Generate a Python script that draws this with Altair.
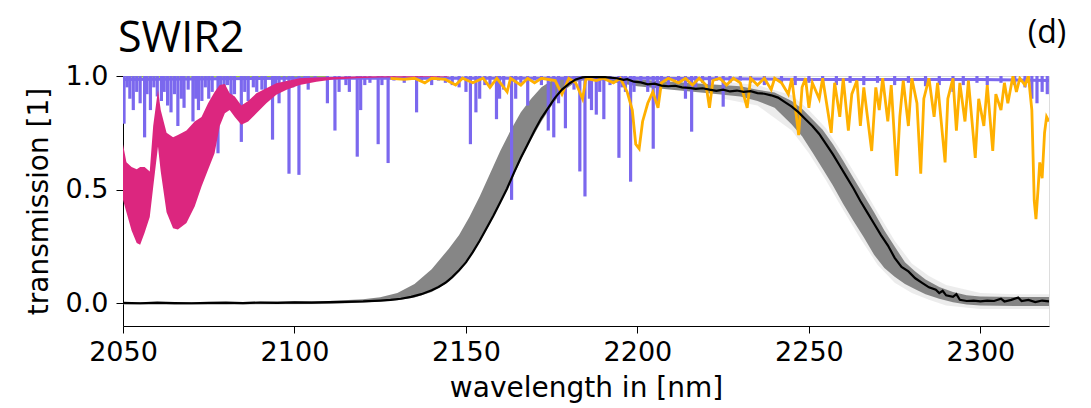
import altair as alt
import pandas as pd

# ---------------- data ----------------
# purple (H2O-like) absorption lines: wavelength, minimum transmission
purple_w = [2050.3, 2051.2, 2052, 2053, 2054, 2055, 2056.3, 2057, 2058, 2059, 2060, 2061.2, 2062, 2063, 2064,
            2065, 2066, 2067, 2067.8, 2069, 2070.4, 2071.2, 2072, 2073, 2074, 2075, 2076, 2077.7, 2078.5, 2079.5,
            2080.5, 2081.5, 2082.5, 2084.5, 2085.5, 2086.5, 2088, 2089, 2090.5, 2091.5, 2093.6, 2094.5, 2095.5,
            2097, 2098.4, 2099.5, 2101.3, 2103, 2104, 2106, 2109.6, 2111.8, 2113, 2115, 2116, 2118.3, 2119.3,
            2120.5, 2122, 2124.4, 2125.5, 2127.3, 2129, 2132, 2135.6, 2137, 2140, 2142, 2144, 2146, 2148, 2150,
            2151.3, 2152.9, 2154, 2155.5, 2157, 2158.9, 2159.8, 2161, 2163.3, 2164.5, 2166, 2168, 2170, 2172,
            2174, 2175.6, 2177, 2179, 2180, 2181.5, 2183.2, 2184.7, 2186, 2186.6, 2188, 2189, 2190.2, 2192,
            2194.6, 2195.5, 2196.5, 2198, 2199, 2201, 2203, 2204.6, 2205.8, 2207, 2209, 2212, 2214, 2215.8,
            2217, 2219, 2221, 2223, 2225, 2227, 2230, 2233, 2237, 2242, 2246, 2250, 2254, 2258, 2262, 2266,
            2270, 2275, 2279, 2284, 2288, 2292, 2295, 2299, 2302, 2306, 2310, 2313, 2315, 2316.5, 2318, 2319.5]
purple_v = [0.79, 0.95, 0.90, 0.85, 0.93, 0.88, 0.73, 0.92, 0.85, 0.95, 0.91, 0.89, 0.93, 0.87, 0.84,
            0.92, 0.78, 0.90, 0.86, 0.94, 0.80, 0.90, 0.85, 0.89, 0.95, 0.90, 0.93, 0.66, 0.94, 0.90,
            0.96, 0.85, 0.92, 0.71, 0.93, 0.89, 0.95, 0.93, 0.94, 0.90, 0.72, 0.95, 0.88,
            0.96, 0.57, 0.95, 0.565, 0.97, 0.94, 0.98, 0.88, 0.76, 0.93, 0.96, 0.93, 0.645, 0.85,
            0.96, 0.97, 0.70, 0.96, 0.617, 0.98, 0.97, 0.84, 0.98, 0.96, 0.98, 0.97, 0.96, 0.95, 0.93,
            0.70, 0.84, 0.90, 0.96, 0.95, 0.81, 0.90, 0.94, 0.455, 0.90, 0.97, 0.87, 0.98, 0.96,
            0.76, 0.73, 0.88, 0.77, 0.96, 0.94, 0.58, 0.47, 0.90, 0.85, 0.83, 0.93, 0.81, 0.96,
            0.64, 0.95, 0.93, 0.535, 0.93, 0.97, 0.93, 0.68, 0.88, 0.97, 0.96, 0.97, 0.90, 0.755,
            0.95, 0.97, 0.96, 0.98, 0.865, 0.97, 0.98, 0.97, 0.96, 0.97, 0.96, 0.97, 0.965, 0.96, 0.97, 0.96,
            0.97, 0.96, 0.97, 0.955, 0.96, 0.93, 0.96, 0.97, 0.96, 0.97, 0.96, 0.95, 0.90, 0.88, 0.93, 0.92]
purple_base_w = [2050, 2100, 2150, 2200, 2250, 2300, 2320]
purple_base_v = [0.985, 0.99, 0.99, 0.99, 0.985, 0.985, 0.98]

# magenta (CO2-like) band: lower / upper envelope of the dense oscillation
mag_w = [2050, 2051, 2052.5, 2054, 2055, 2056.3, 2057.8, 2058.8, 2060.2, 2061, 2062.7, 2064.6, 2066, 2068.5,
         2070.9, 2072.9, 2074.8, 2076.7, 2078.2, 2079.7, 2081.1, 2082.6, 2084.5, 2086.5, 2088.9, 2091.8,
         2094.7, 2097.7, 2101.5, 2106.4, 2111.3, 2118, 2125, 2135, 2145]
mag_hi = [0.70, 0.62, 0.60, 0.59, 0.60, 0.60, 0.58, 0.78, 0.94, 0.85, 0.75, 0.73, 0.74, 0.76,
          0.80, 0.82, 0.88, 0.93, 0.96, 0.965, 0.924, 0.91, 0.87, 0.89, 0.924, 0.946,
          0.968, 0.978, 0.99, 0.993, 0.996, 0.998, 0.999, 0.999, 0.999]
mag_lo = [0.455, 0.40, 0.32, 0.265, 0.258, 0.31, 0.38, 0.51, 0.69, 0.58, 0.40, 0.33, 0.325, 0.353,
          0.426, 0.514, 0.587, 0.66, 0.78, 0.836, 0.85, 0.82, 0.785, 0.80, 0.836, 0.88,
          0.917, 0.94, 0.96, 0.975, 0.985, 0.99, 0.993, 0.995, 0.997]

# green trace at the very top
green_w = [2050, 2070, 2090, 2110]
green_v = [0.997, 0.996, 0.997, 0.998]

# orange (CH4-like) transmission line
orange_w = [2128, 2132, 2135, 2138, 2140, 2144, 2147, 2149, 2152, 2155, 2157, 2159, 2162, 2163, 2166, 2168, 2170,
            2172, 2176, 2178, 2180, 2182, 2184, 2185, 2188, 2190, 2193, 2195, 2197, 2198.5, 2199.5, 2200.5,
            2201.5, 2203, 2204.5, 2206, 2207, 2209, 2212, 2214, 2216, 2218, 2220, 2221, 2222, 2224, 2226, 2228,
            2230, 2232, 2233, 2235, 2237, 2239, 2240, 2242, 2244, 2245, 2247, 2248, 2249, 2250, 2251, 2253, 2254,
            2256.5, 2257.5, 2259, 2260, 2261.5, 2262.5, 2264, 2265, 2266, 2268.3, 2269.5, 2270.5, 2271.5, 2273,
            2274, 2275.6, 2276.5, 2277.5, 2279, 2280, 2281.5, 2282.6, 2283.5, 2285, 2286.5, 2287.5, 2289.7,
            2290.5, 2292, 2293, 2294, 2295.5, 2296.5, 2298.5, 2299.5, 2301, 2302, 2303.6, 2304.5, 2306, 2307,
            2308, 2309.5, 2310.5, 2311.5, 2313, 2314, 2315, 2315.7, 2316.2, 2316.8, 2317.3, 2318, 2318.7,
            2319.3, 2320]
orange_v = [0.99, 0.985, 0.99, 0.97, 0.99, 0.985, 0.96, 0.99, 0.97, 0.99, 0.95, 0.99, 0.93, 0.99, 0.96, 0.99, 0.97,
            0.99, 0.98, 0.92, 0.99, 0.97, 0.90, 0.99, 0.98, 0.99, 0.97, 0.99, 0.93, 0.85, 0.70, 0.68,
            0.80, 0.88, 0.93, 0.86, 0.97, 0.99, 0.97, 0.99, 0.96, 0.99, 0.96, 0.86, 0.98, 0.99, 0.96, 0.99,
            0.97, 0.86, 0.99, 0.96, 0.99, 0.94, 0.99, 0.97, 0.92, 0.99, 0.74, 0.95, 0.99, 0.86, 0.97, 0.90, 0.99,
            0.75, 0.97, 0.82, 0.99, 0.76, 0.92, 0.98, 0.78, 0.95, 0.67, 0.95, 0.85, 0.99, 0.80,
            0.96, 0.56, 0.82, 0.98, 0.78, 0.99, 0.88, 0.57, 0.90, 0.99, 0.82, 0.97, 0.62,
            0.90, 0.99, 0.76, 0.97, 0.80, 0.98, 0.64, 0.90, 0.78, 0.96, 0.67, 0.92, 0.85, 0.97,
            0.88, 1.0, 0.93, 0.99, 0.96, 1.0, 0.85, 0.45, 0.37, 0.50, 0.62, 0.55, 0.75,
            0.82, 0.80]

# gray ensemble of spectral response functions: envelope
gray_w = [2050, 2080, 2110, 2120, 2125, 2130, 2135, 2140, 2145, 2148, 2151, 2154, 2157, 2160, 2163, 2166, 2169,
          2172, 2175, 2178, 2182, 2186, 2190, 2200, 2210, 2220, 2230, 2235, 2240, 2245, 2248, 2251, 2254, 2257,
          2260, 2263, 2266, 2269, 2272, 2275, 2278, 2281, 2284, 2288, 2292, 2296, 2300, 2310, 2320]
gray_hi = [0.005, 0.005, 0.01, 0.018, 0.027, 0.045, 0.085, 0.15, 0.24, 0.30, 0.38, 0.47, 0.57, 0.67, 0.76, 0.84, 0.90,
           0.95, 0.98, 0.995, 1.0, 1.0, 0.995, 0.985, 0.975, 0.965, 0.955, 0.94, 0.927, 0.89, 0.856, 0.81, 0.764,
           0.70, 0.627, 0.55, 0.475, 0.40, 0.32, 0.25, 0.18, 0.14, 0.105, 0.072, 0.05, 0.035, 0.03, 0.028, 0.028]
gray_lo = [-0.005, -0.005, -0.003, 0.003, 0.008, 0.013, 0.025, 0.05, 0.095, 0.14, 0.2, 0.27, 0.35, 0.44, 0.53, 0.63,
           0.72, 0.80, 0.87, 0.93, 0.975, 0.985, 0.98, 0.955, 0.94, 0.925, 0.91, 0.89, 0.86, 0.787, 0.735, 0.665,
           0.592, 0.518, 0.437, 0.362, 0.29, 0.213, 0.155, 0.117, 0.085, 0.062, 0.04, 0.02, 0.005, -0.005, -0.01,
           -0.012, -0.012]

# faint halo of the ensemble on the falling edge
halo_w = [2225, 2235, 2245, 2250, 2255, 2260, 2265, 2270, 2275, 2280, 2285, 2290, 2300, 2310, 2320]
halo_hi = [0.975, 0.96, 0.915, 0.85, 0.77, 0.655, 0.53, 0.40, 0.275, 0.175, 0.12, 0.08, 0.045, 0.04, 0.04]
halo_lo = [0.90, 0.87, 0.76, 0.66, 0.54, 0.41, 0.285, 0.17, 0.09, 0.045, 0.015, -0.01, -0.025, -0.025, -0.025]

# black mean spectral response
black_w = [2050, 2055, 2060, 2065, 2070, 2075, 2080, 2085, 2090, 2095, 2100, 2105, 2110, 2115, 2120, 2125, 2128,
           2131, 2134, 2137, 2140, 2142, 2144, 2146, 2148, 2150, 2152, 2154, 2156, 2158, 2160, 2162, 2164, 2166,
           2168, 2170, 2172, 2174, 2176, 2178, 2180, 2182, 2184, 2186, 2188, 2190, 2192, 2194, 2196, 2197, 2199,
           2201, 2203, 2205, 2207, 2209, 2211, 2213, 2215, 2217, 2219, 2221, 2223, 2225, 2227, 2229, 2231, 2233,
           2235, 2237, 2239, 2241, 2243, 2245, 2247, 2249, 2251, 2253, 2255, 2257, 2259, 2261, 2263, 2265, 2267,
           2269, 2271, 2273, 2275, 2277, 2279, 2281, 2283, 2285, 2287, 2288, 2289, 2290, 2292, 2293, 2294, 2296,
           2298, 2300, 2302, 2304, 2306, 2307, 2309, 2311, 2312, 2314, 2316, 2318, 2320]
black_v = [0.002, 0.0, 0.003, 0.001, 0.0, 0.002, 0.003, 0.001, 0.003, 0.002, 0.004, 0.003, 0.005, 0.006, 0.008,
           0.012, 0.015, 0.02, 0.028, 0.04, 0.057, 0.072, 0.09, 0.115, 0.145, 0.18, 0.225, 0.275, 0.33, 0.385,
           0.445, 0.505, 0.575, 0.64, 0.70, 0.76, 0.815, 0.86, 0.905, 0.94, 0.965, 0.985, 0.994, 0.997, 0.995,
           0.996, 0.993, 0.99, 0.983, 0.986, 0.975, 0.972, 0.963, 0.966, 0.958, 0.955, 0.957, 0.95, 0.948, 0.943,
           0.946, 0.94, 0.935, 0.94, 0.932, 0.936, 0.93, 0.933, 0.925, 0.922, 0.915, 0.905, 0.885, 0.865, 0.84,
           0.81, 0.78, 0.745, 0.70, 0.655, 0.605, 0.555, 0.505, 0.45, 0.40, 0.35, 0.30, 0.255, 0.20, 0.16, 0.14,
           0.11, 0.09, 0.07, 0.06, 0.045, 0.055, 0.035, 0.028, 0.04, 0.015, 0.01, 0.012, 0.008, 0.012, 0.01, 0.02,
           0.008, 0.015, 0.025, 0.01, 0.015, 0.005, 0.012, 0.008]

x_ticks = [2050, 2100, 2150, 2200, 2250, 2300]
y_ticks = [0.0, 0.5, 1.0]

# ---------------- chart ----------------
W, H = 926, 250
xs = alt.Scale(domain=[2050, 2320], nice=False, zero=False)
ys = alt.Scale(domain=[-0.1, 1.0], nice=False, zero=False)

FONT = "DejaVu Sans"
x_axis = alt.Axis(values=x_ticks, format="d", title="wavelength in [nm]", grid=False, tickSize=7,
                  tickColor="black", domainColor="black", labelFontSize=27, labelFont=FONT, labelColor="black",
                  labelPadding=6, labelFlush=False, labelOverlap=False,
                  titleFontSize=28, titleFont=FONT, titleColor="black", titleFontWeight="normal",
                  titleY=62, titleBaseline="middle")
y_axis = alt.Axis(values=y_ticks, format=".1f", title="transmission [1]", grid=False, tickSize=7,
                  tickColor="black", domainColor="black", labelFontSize=27, labelFont=FONT, labelColor="black",
                  labelPadding=8, labelFlush=False, labelOverlap=False,
                  titleFontSize=28, titleFont=FONT, titleColor="black", titleFontWeight="normal",
                  titleX=-84, titleY=125, titleAngle=-90, titleBaseline="middle", titleAlign="center")

gray_df = pd.DataFrame({"w": gray_w, "lo": gray_lo, "hi": gray_hi})
halo_df = pd.DataFrame({"w": halo_w, "lo": halo_lo, "hi": halo_hi})
purple_df = pd.DataFrame({"w": purple_w, "v": purple_v})
purple_df["top"] = 1.0
pbase_df = pd.DataFrame({"w": purple_base_w, "v": purple_base_v})
mag_df = pd.DataFrame({"w": mag_w, "lo": mag_lo, "hi": mag_hi})
green_df = pd.DataFrame({"w": green_w, "v": green_v})
orange_df = pd.DataFrame({"w": orange_w, "v": orange_v})
black_df = pd.DataFrame({"w": black_w, "v": black_v})

halo = alt.Chart(halo_df).mark_area(color="#cfcfcf", opacity=0.4, clip=True).encode(
    x=alt.X("w:Q", scale=xs, axis=x_axis), y=alt.Y("lo:Q", scale=ys, axis=y_axis), y2="hi:Q")
gray = alt.Chart(gray_df).mark_area(color="#808080", opacity=0.95, clip=True).encode(
    x=alt.X("w:Q", scale=xs), y=alt.Y("lo:Q", scale=ys), y2="hi:Q")
green = alt.Chart(green_df).mark_line(color="#9ACD32", strokeWidth=1.5, clip=True).encode(
    x=alt.X("w:Q", scale=xs), y=alt.Y("v:Q", scale=ys))
purple = alt.Chart(purple_df).mark_rule(color="#7B68EE", strokeWidth=3.2, clip=True).encode(
    x=alt.X("w:Q", scale=xs), y=alt.Y("top:Q", scale=ys), y2="v:Q")
pbase = alt.Chart(pbase_df).mark_line(color="#7B68EE", strokeWidth=3, clip=True).encode(
    x=alt.X("w:Q", scale=xs), y=alt.Y("v:Q", scale=ys))
mag = alt.Chart(mag_df).mark_area(color="#DC267F", opacity=1, clip=True).encode(
    x=alt.X("w:Q", scale=xs), y=alt.Y("lo:Q", scale=ys), y2="hi:Q")
orange = alt.Chart(orange_df).mark_line(color="#FFB000", strokeWidth=2.8, clip=True).encode(
    x=alt.X("w:Q", scale=xs), y=alt.Y("v:Q", scale=ys))
black = alt.Chart(black_df).mark_line(color="black", strokeWidth=2.2, clip=True).encode(
    x=alt.X("w:Q", scale=xs), y=alt.Y("v:Q", scale=ys))

labels_df = pd.DataFrame({"t": ["SWIR2"]})
title_txt = alt.Chart(labels_df).mark_text(font="Open Sans", fontSize=43, align="left", baseline="alphabetic",
                                           color="black").encode(
    text="t:N", x=alt.value(-5), y=alt.value(-24))
panel_df = pd.DataFrame({"t": ["(d)"]})
panel_txt = alt.Chart(panel_df).mark_text(font="Open Sans", fontSize=32, align="center", baseline="middle",
                                          color="black").encode(
    text="t:N", x=alt.value(924), y=alt.value(-43))

chart = alt.layer(halo, gray, green, purple, pbase, mag, orange, black, title_txt, panel_txt).properties(
    width=W, height=H,
    autosize=alt.AutoSizeParams(type="none"),
    padding={"left": 123, "top": 76, "right": 42, "bottom": 82},
).configure_view(stroke="black", strokeWidth=1.2).configure(background="white")

chart.save("out.html", embed_options={"renderer": "svg", "actions": False})
